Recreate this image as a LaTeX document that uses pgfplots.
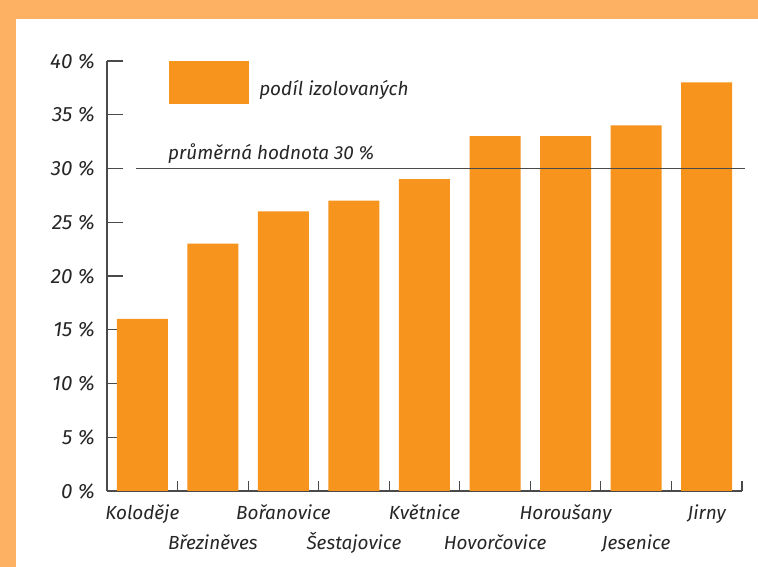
\documentclass[border=0pt]{standalone}
\usepackage{pgfplots}
\pgfplotsset{compat=1.18}
\usepackage{fontspec}
\setmainfont{Fira Sans}
\definecolor{barorange}{HTML}{F7941E}
\definecolor{frameorange}{HTML}{FCB163}
\definecolor{txt}{HTML}{262626}
\definecolor{axisc}{HTML}{4A4A4A}
\begin{document}
\begin{tikzpicture}[font=\fontsize{14.2}{17}\selectfont\itshape]
\fill[frameorange] (0,0) rectangle (568.5pt,425.25pt);
\fill[white] (12pt,0) rectangle (568.5pt,411pt);
\useasboundingbox (0,0) rectangle (568.5pt,425.25pt);
\begin{axis}[
  at={(80.25pt,57pt)}, anchor=south west,
  scale only axis, width=476.25pt, height=322.5pt,
  xmin=-0.5, xmax=8.5, ymin=0, ymax=40,
  clip=false,
  axis lines=left, axis line style={-, axisc, line width=0.8pt},
  tick align=inside,
  major tick length=12pt, minor tick length=7.5pt,
  tick style={axisc, line width=0.8pt},
  major x tick style={draw=none},
  ytick={0,5,10,15,20,25,30,35,40},
  yticklabels={0 \%,5 \%,10 \%,15 \%,20 \%,25 \%,30 \%,35 \%,40 \%},
  yticklabel style={anchor=east, inner sep=0pt, xshift=-9pt, text=txt, font=\fontsize{15.5}{18}\selectfont\itshape},
  xtick={0,2,4,6,8},
  xticklabels={Koloděje,Bořanovice,Květnice,Horoušany,Jirny},
  minor xtick={-0.5,0.5,...,8.5},
  xticklabel style={anchor=base, inner sep=0pt, yshift=-21.75pt, text=txt},
  extra x ticks={1,3,5,7},
  extra x tick labels={Březiněves,Šestajovice,Hovorčovice,Jesenice},
  extra x tick style={major tick length=0pt, major x tick style={draw=none}, xticklabel style={yshift=-22.5pt}},
  legend style={at={(axis cs:0.379,40)}, anchor=north west, draw=none, fill=none, inner sep=0pt, text=txt,
    /tikz/every odd column/.append style={column sep=5.5pt}},
]
\addplot[ybar, bar width=38.25pt, fill=barorange, draw=none,
  legend image code/.code={\fill[barorange] (0pt,-11.5pt) rectangle (60pt,20.75pt);}]
  coordinates {(0,16) (1,23) (2,26) (3,27) (4,29) (5,33) (6,33) (7,34) (8,38)};
\addlegendentry{podíl izolovaných}
\addplot[axisc, line width=1pt, forget plot] coordinates {(-0.089,30) (8.54,30)};
\node[anchor=base west, inner sep=0pt, text=txt] at (axis cs:0.364,30) [yshift=6.75pt] {průměrná hodnota 30 \%};
\end{axis}
\end{tikzpicture}
\end{document}
